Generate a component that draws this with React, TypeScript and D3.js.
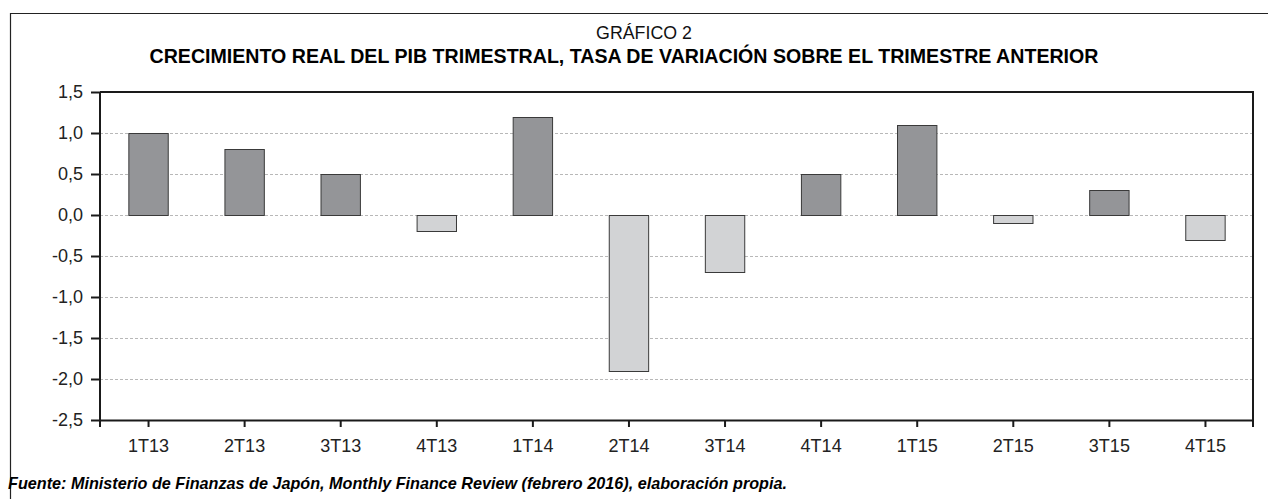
import React, { useEffect, useRef } from 'react';
import * as d3 from 'd3';

const quarters = ['1T13', '2T13', '3T13', '4T13', '1T14', '2T14', '3T14', '4T14', '1T15', '2T15', '3T15', '4T15'];
const growth = [1.0, 0.8, 0.5, -0.2, 1.2, -1.9, -0.7, 0.5, 1.1, -0.1, 0.3, -0.3];
const yTicks = [1.5, 1.0, 0.5, 0.0, -0.5, -1.0, -1.5, -2.0, -2.5];

const App = () => {
  const ref = useRef<SVGSVGElement>(null);

  useEffect(() => {
    const width = 1268;
    const height = 499;
    const left = 100, right = 1253, top = 92, bottom = 420;
    const font = '"Liberation Sans", Arial, Helvetica, sans-serif';

    const svg = d3.select(ref.current);
    svg.selectAll('*').remove();

    svg.append('rect').attr('width', width).attr('height', height).attr('fill', '#fff');

    // outer frame (only top and left visible in the crop)
    svg.append('path')
      .attr('d', `M10.5,${height} V13.5 H${width}`)
      .attr('fill', 'none')
      .attr('stroke', '#222')
      .attr('stroke-width', 1.2);

    svg.append('text')
      .attr('x', 644).attr('y', 39)
      .attr('text-anchor', 'middle')
      .style('font-family', font).style('font-size', '17.8px').style('fill', '#111')
      .text('GRÁFICO 2');

    svg.append('text')
      .attr('x', 624).attr('y', 63)
      .attr('text-anchor', 'middle')
      .style('font-family', font).style('font-size', '19.6px').style('font-weight', 'bold').style('fill', '#000')
      .text('CRECIMIENTO REAL DEL PIB TRIMESTRAL, TASA DE VARIACIÓN SOBRE EL TRIMESTRE ANTERIOR');

    const x = d3.scaleBand().domain(quarters).range([left, right]).paddingInner(0.59).paddingOuter(0.295);
    const xc = d3.scalePoint().domain(quarters).range([left, right]).padding(0.5);
    const y = d3.scaleLinear().domain([-2.5, 1.5]).range([bottom, top]);

    // gridlines
    svg.append('g')
      .selectAll('line')
      .data(yTicks.filter(t => t !== 1.5 && t !== -2.5))
      .enter()
      .append('line')
      .attr('x1', left).attr('x2', right)
      .attr('y1', d => Math.round(y(d)) + 0.5).attr('y2', d => Math.round(y(d)) + 0.5)
      .attr('stroke', '#b8b8b8')
      .attr('stroke-dasharray', '3,2');

    // bars
    svg.append('g')
      .selectAll('rect')
      .data(growth)
      .enter()
      .append('rect')
      .attr('x', (d, i) => x(quarters[i])! + 0.5)
      .attr('width', x.bandwidth())
      .attr('y', d => Math.round(y(Math.max(0, d))) + 0.5)
      .attr('height', d => Math.abs(Math.round(y(d)) - Math.round(y(0))))
      .attr('fill', d => (d >= 0 ? '#949598' : '#d2d3d5'))
      .attr('stroke', '#3a3a3a')
      .attr('stroke-width', 1);

    // plot frame: top and right
    svg.append('path')
      .attr('d', `M${left},${top} H${right} V${bottom + 7}`)
      .attr('fill', 'none')
      .attr('stroke', '#1a1a1a')
      .attr('stroke-width', 2);

    const yAxis = svg.append('g')
      .attr('transform', `translate(${left},0)`)
      .call(d3.axisLeft(y).tickValues(yTicks).tickSize(9).tickPadding(8)
        .tickFormat(d => d3.format('.1f')(d as number).replace('.', ',').replace('−', '-')));
    yAxis.select('.domain').attr('d', `M0,${top}V${bottom + 7}`).attr('stroke', '#1a1a1a').attr('stroke-width', 2);
    yAxis.selectAll('.tick line').attr('stroke', '#1a1a1a').attr('stroke-width', 2);
    yAxis.selectAll('text').style('font-family', font).style('font-size', '18px').style('fill', '#222');

    const xAxis = svg.append('g')
      .attr('transform', `translate(0,${bottom})`)
      .call(d3.axisBottom(xc).tickSize(7).tickSizeOuter(0).tickPadding(12));
    xAxis.select('.domain').attr('stroke', '#1a1a1a').attr('stroke-width', 2);
    xAxis.selectAll('.tick line').attr('stroke', '#1a1a1a').attr('stroke-width', 2);
    xAxis.selectAll('text').style('font-family', font).style('font-size', '18px').style('fill', '#222');

    svg.append('text')
      .attr('x', 8).attr('y', 489)
      .style('font-family', font).style('font-size', '16.2px').style('font-weight', 'bold').style('font-style', 'italic').style('fill', '#000')
      .text('Fuente: Ministerio de Finanzas de Japón, Monthly Finance Review (febrero 2016), elaboración propia.');
  }, []);

  return (
    <svg ref={ref} width={1268} height={499} style={{ position: 'absolute', left: 0, top: 0, display: 'block' }} />
  );
};

export default App;
